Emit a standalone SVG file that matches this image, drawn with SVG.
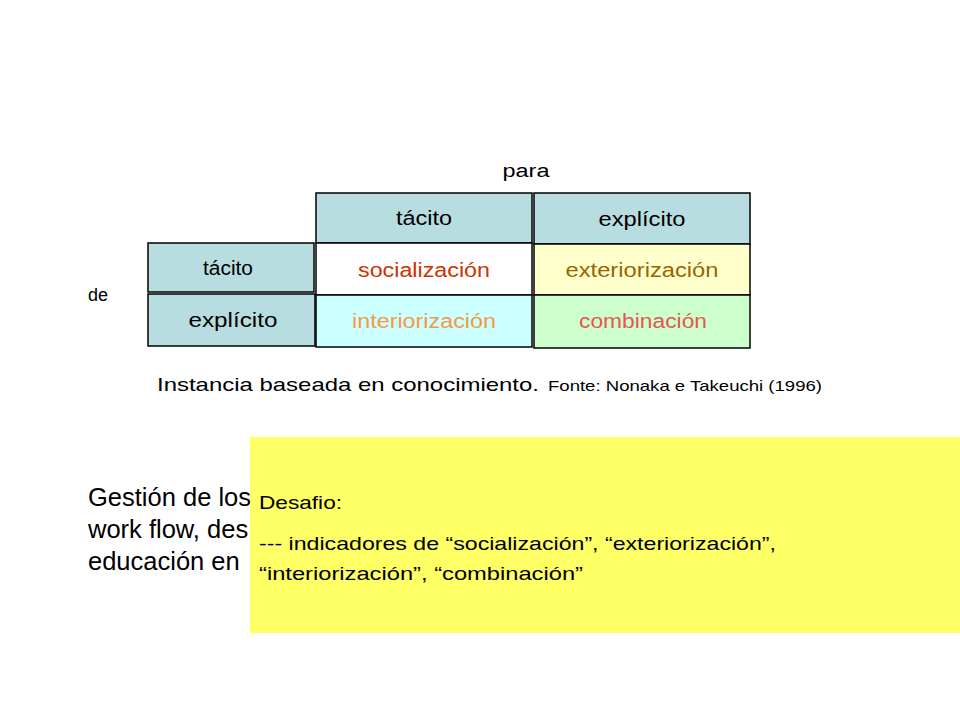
<svg xmlns="http://www.w3.org/2000/svg" width="960" height="720" viewBox="0 0 960 720">
<style>
text { font-family: "Liberation Sans", Arial, sans-serif; }
.box { stroke: #000; stroke-width: 1.5; }
.hdr { fill: #B8DDE1; }
.lbl { font-size: 20px; fill: #000; text-anchor: middle; }
.cell { font-size: 20px; text-anchor: middle; }
.body { font-size: 25.5px; fill: #000; }
.note { font-size: 19px; fill: #000; }
</style>
<rect width="960" height="720" fill="#fff"/>

<text x="526" y="177" style="font-size:18px" text-anchor="middle" textLength="47" lengthAdjust="spacingAndGlyphs">para</text>
<text x="88" y="301" style="font-size:18px">de</text>

<g id="col-tacito">
<rect class="box hdr" x="316" y="193" width="216" height="50"/>
<text class="lbl" x="424" y="225" textLength="56" lengthAdjust="spacingAndGlyphs">tácito</text>
</g>
<g id="col-explicito">
<rect class="box hdr" x="534" y="193" width="216" height="51"/>
<text class="lbl" x="642" y="226" textLength="87" lengthAdjust="spacingAndGlyphs">explícito</text>
</g>
<g id="row-tacito">
<rect class="box hdr" x="148" y="243" width="166" height="49"/>
<text class="lbl" x="228" y="275" textLength="50" lengthAdjust="spacingAndGlyphs">tácito</text>
</g>
<g id="row-explicito">
<rect class="box hdr" x="148" y="294" width="167" height="52"/>
<text class="lbl" x="233" y="327" textLength="89" lengthAdjust="spacingAndGlyphs">explícito</text>
</g>
<g id="socializacion">
<rect class="box" fill="#FFFFFF" x="316" y="243" width="216" height="52"/>
<text class="cell" fill="#CC3300" x="424" y="277" textLength="132" lengthAdjust="spacingAndGlyphs">socialización</text>
</g>
<g id="exteriorizacion">
<rect class="box" fill="#FFFFCC" x="534" y="244" width="216" height="51"/>
<text class="cell" fill="#996600" x="642" y="277" textLength="153" lengthAdjust="spacingAndGlyphs">exteriorización</text>
</g>
<g id="interiorizacion">
<rect class="box" fill="#CCFFFF" x="316" y="295" width="216" height="52"/>
<text class="cell" fill="#F39A45" x="424" y="328" textLength="144" lengthAdjust="spacingAndGlyphs">interiorización</text>
</g>
<g id="combinacion">
<rect class="box" fill="#CCFFCC" x="534" y="295" width="216" height="53"/>
<text class="cell" fill="#E85555" x="643" y="328" textLength="128" lengthAdjust="spacingAndGlyphs">combinación</text>
</g>
<g id="connectors"></g>

<text x="157" y="391" style="font-size:19px" textLength="382" lengthAdjust="spacingAndGlyphs">Instancia baseada en conocimiento.</text>
<text x="548" y="391" style="font-size:15px" textLength="274" lengthAdjust="spacingAndGlyphs">Fonte: Nonaka e Takeuchi (1996)</text>

<g id="body-text">
<text class="body" x="88" y="506">Gestión de los</text>
<text class="body" x="88" y="538">work flow, des</text>
<text class="body" x="88" y="570">educación en</text>
</g>

<g id="desafio">
<rect x="250" y="437" width="710" height="196" fill="#FFFF66"/>
<text class="note" x="259" y="509" textLength="83" lengthAdjust="spacingAndGlyphs">Desafio:</text>
<text class="note" x="259" y="550" textLength="517" lengthAdjust="spacingAndGlyphs">--- indicadores  de “socialización”,  “exteriorización”,</text>
<text class="note" x="259" y="580" textLength="324" lengthAdjust="spacingAndGlyphs">“interiorización”,  “combinación”</text>
</g>
</svg>
